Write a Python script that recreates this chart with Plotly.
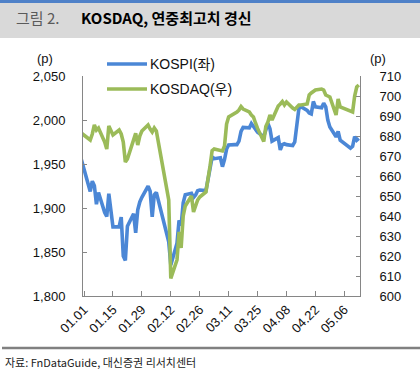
import plotly.graph_objects as go

dates = [
    "2015-12-30",
    "2016-01-04", "2016-01-05", "2016-01-06", "2016-01-07", "2016-01-08",
    "2016-01-11", "2016-01-12", "2016-01-13", "2016-01-14", "2016-01-15",
    "2016-01-18", "2016-01-19", "2016-01-20", "2016-01-21", "2016-01-22",
    "2016-01-25", "2016-01-26", "2016-01-27", "2016-01-28", "2016-01-29",
    "2016-02-01", "2016-02-02", "2016-02-03", "2016-02-04", "2016-02-05",
    "2016-02-11", "2016-02-12",
    "2016-02-15", "2016-02-16", "2016-02-17", "2016-02-18", "2016-02-19",
    "2016-02-22", "2016-02-23", "2016-02-24", "2016-02-25", "2016-02-26",
    "2016-02-29", "2016-03-02", "2016-03-03", "2016-03-04",
    "2016-03-07", "2016-03-08", "2016-03-09", "2016-03-10", "2016-03-11",
    "2016-03-14", "2016-03-15", "2016-03-16", "2016-03-17", "2016-03-18",
    "2016-03-21", "2016-03-22", "2016-03-23", "2016-03-24", "2016-03-25",
    "2016-03-28", "2016-03-29", "2016-03-30", "2016-03-31", "2016-04-01",
    "2016-04-04", "2016-04-05", "2016-04-06", "2016-04-07", "2016-04-08",
    "2016-04-11", "2016-04-12", "2016-04-14", "2016-04-15",
    "2016-04-18", "2016-04-19", "2016-04-20", "2016-04-21", "2016-04-22",
    "2016-04-25", "2016-04-26", "2016-04-27", "2016-04-28", "2016-04-29",
    "2016-05-02", "2016-05-03", "2016-05-04",
    "2016-05-09", "2016-05-10", "2016-05-11", "2016-05-12", "2016-05-13",
]

kospi = [
    1961,
    1918.8, 1930.5, 1925.4, 1904.3, 1917.6,
    1894.8, 1890.3, 1916.3, 1900.0, 1878.5,
    1878.7, 1889.6, 1845.5, 1840.5, 1879.4,
    1893.4, 1871.7, 1897.9, 1906.9, 1912.1,
    1924.8, 1919.0, 1890.0, 1915.0, 1917.8,
    1861.5, 1835.3,
    1860, 1886, 1880, 1906, 1915,
    1916.7, 1912, 1914.8, 1919.7, 1920.5,
    1919.7, 1945, 1958, 1956,
    1957, 1947, 1955, 1967, 1971.6,
    1972, 1972, 1976, 1987, 1991.5,
    1991, 1996, 1992, 1988, 1986,
    1981, 1988, 1996, 1990, 1976,
    1980, 1966, 1972, 1973, 1972,
    1971, 1975, 2013, 2015,
    2011, 2008, 2007, 2021, 2015,
    2014, 2019, 2015, 2000, 1992,
    1981, 1987, 1977,
    1968, 1970, 1981, 1977, 1979,
]

kosdaq = [
    682,
    678, 681, 685.5, 683, 684,
    677, 673.5, 685, 683, 680.5,
    683, 681, 677, 667, 668.5,
    677.5, 681.3, 675.5, 680, 682.5,
    685.5, 683.5, 682, 684, 682.5,
    648, 608.8,
    618, 632, 624, 640, 645,
    650, 642, 645, 648, 649.5,
    652, 665, 672.7, 673.5,
    673, 672.5, 675, 686, 689.5,
    691, 692, 693, 694.7, 693.5,
    692, 690.5, 689.5, 686.5, 683.8,
    677.2, 684.7, 687, 690.5, 688,
    695, 696, 697.2, 695.5, 697,
    694, 693.3, 695.5, 695.5,
    696, 700.5, 701.5, 702.5, 703,
    703.5, 703, 700.5, 700, 699.5,
    690.5, 698.5, 694.5,
    692.5, 692, 700, 704.5, 705.5,
]

series_names = ["KOSPI(좌)", "KOSDAQ(우)"]
colors = ["#4B87D6", "#9BBB59"]

W, H = 420, 377
L, R, T, B = 83, 60, 76, 81
PW, PH = W - L - R, H - T - B


def px(x):
    return (x - L) / PW


def py(y):
    return (H - B - y) / PH


fig = go.Figure()
fig.add_trace(go.Scatter(x=dates, y=kospi, name=series_names[0], mode="lines",
                         line=dict(color=colors[0], width=3.6), yaxis="y"))
fig.add_trace(go.Scatter(x=dates, y=kosdaq, name=series_names[1], mode="lines",
                         line=dict(color=colors[1], width=3.6), yaxis="y2"))

tickfont = dict(family="Liberation Sans, Arial, sans-serif", size=13, color="#111111")
axcol = "#868686"

fig.update_layout(
    width=W, height=H,
    margin=dict(l=L, r=R, t=T, b=B, pad=0),
    paper_bgcolor="white", plot_bgcolor="white",
    showlegend=False,
    xaxis=dict(
        type="date",
        range=["2015-12-31 12:00", "2016-05-13 14:00"],
        tick0="2016-01-01", dtick=14 * 86400000,
        tickformat="%m.%d", tickangle=-45,
        ticks="inside", ticklen=5, tickcolor=axcol,
        showline=True, linecolor=axcol, linewidth=1,
        showgrid=False, zeroline=False,
        tickfont=tickfont,
    ),
    yaxis=dict(
        range=[1800, 2050], dtick=50, tickformat=",",
        ticks="inside", ticklen=4, tickcolor=axcol,
        showline=True, linecolor=axcol, linewidth=1,
        showgrid=False, zeroline=False,
        tickfont=tickfont, ticklabelstandoff=14,
    ),
    yaxis2=dict(
        range=[600, 710], dtick=10, overlaying="y", side="right",
        ticks="inside", ticklen=4, tickcolor=axcol,
        showline=True, linecolor=axcol, linewidth=1,
        showgrid=False, zeroline=False,
        tickfont=tickfont, ticklabelstandoff=16,
    ),
)

shapes = [
    # header band
    dict(type="rect", xref="paper", yref="paper", x0=px(0), x1=px(W), y0=py(38), y1=py(3),
         fillcolor="#D9D9D9", line=dict(width=0), layer="below"),
    dict(type="rect", xref="paper", yref="paper", x0=px(0), x1=px(W), y0=py(3), y1=py(0),
         fillcolor="#4F81C8", line=dict(width=0), layer="below"),
    # footer rule
    dict(type="line", xref="paper", yref="paper", x0=px(2), x1=px(W), y0=py(348), y1=py(348),
         line=dict(color="#808080", width=2.5)),
    # legend samples
    dict(type="line", xref="paper", yref="paper", x0=px(107), x1=px(147), y0=py(64), y1=py(64),
         line=dict(color=colors[0], width=3.6)),
    dict(type="line", xref="paper", yref="paper", x0=px(107), x1=px(147), y0=py(89), y1=py(89),
         line=dict(color=colors[1], width=3.6)),
]

cjk = "Noto Sans CJK KR, Liberation Sans, sans-serif"
legfont = dict(family="Liberation Sans, Noto Sans CJK KR, sans-serif", size=14, color="#111111")
annotations = [
    dict(text="그림 2.", xref="paper", yref="paper", x=px(14), y=py(18), xanchor="left",
         yanchor="middle", showarrow=False, font=dict(family=cjk, size=15, color="#5A5A5A")),
    dict(text="<b>KOSDAQ, 연중최고치 경신</b>", xref="paper", yref="paper", x=px(79), y=py(18),
         xanchor="left", yanchor="middle", showarrow=False,
         font=dict(family=cjk, size=15, color="#000000")),
    dict(text="(p)", xref="paper", yref="paper", x=px(45), y=py(58), xanchor="center",
         yanchor="middle", showarrow=False, font=tickfont),
    dict(text="(p)", xref="paper", yref="paper", x=px(378), y=py(58), xanchor="center",
         yanchor="middle", showarrow=False, font=tickfont),
    dict(text=series_names[0], xref="paper", yref="paper", x=px(148), y=py(64), xanchor="left",
         yanchor="middle", showarrow=False, font=legfont),
    dict(text=series_names[1], xref="paper", yref="paper", x=px(148), y=py(89), xanchor="left",
         yanchor="middle", showarrow=False, font=legfont),
    dict(text="자료: FnDataGuide, 대신증권 리서치센터", xref="paper", yref="paper", x=px(3), y=py(362),
         xanchor="left", yanchor="middle", showarrow=False,
         font=dict(family=cjk, size=11, color="#222222")),
]

fig.update_layout(shapes=shapes, annotations=annotations)
fig.write_html("out.html", config={"displayModeBar": False},
               post_script="document.body.style.margin='0';")
